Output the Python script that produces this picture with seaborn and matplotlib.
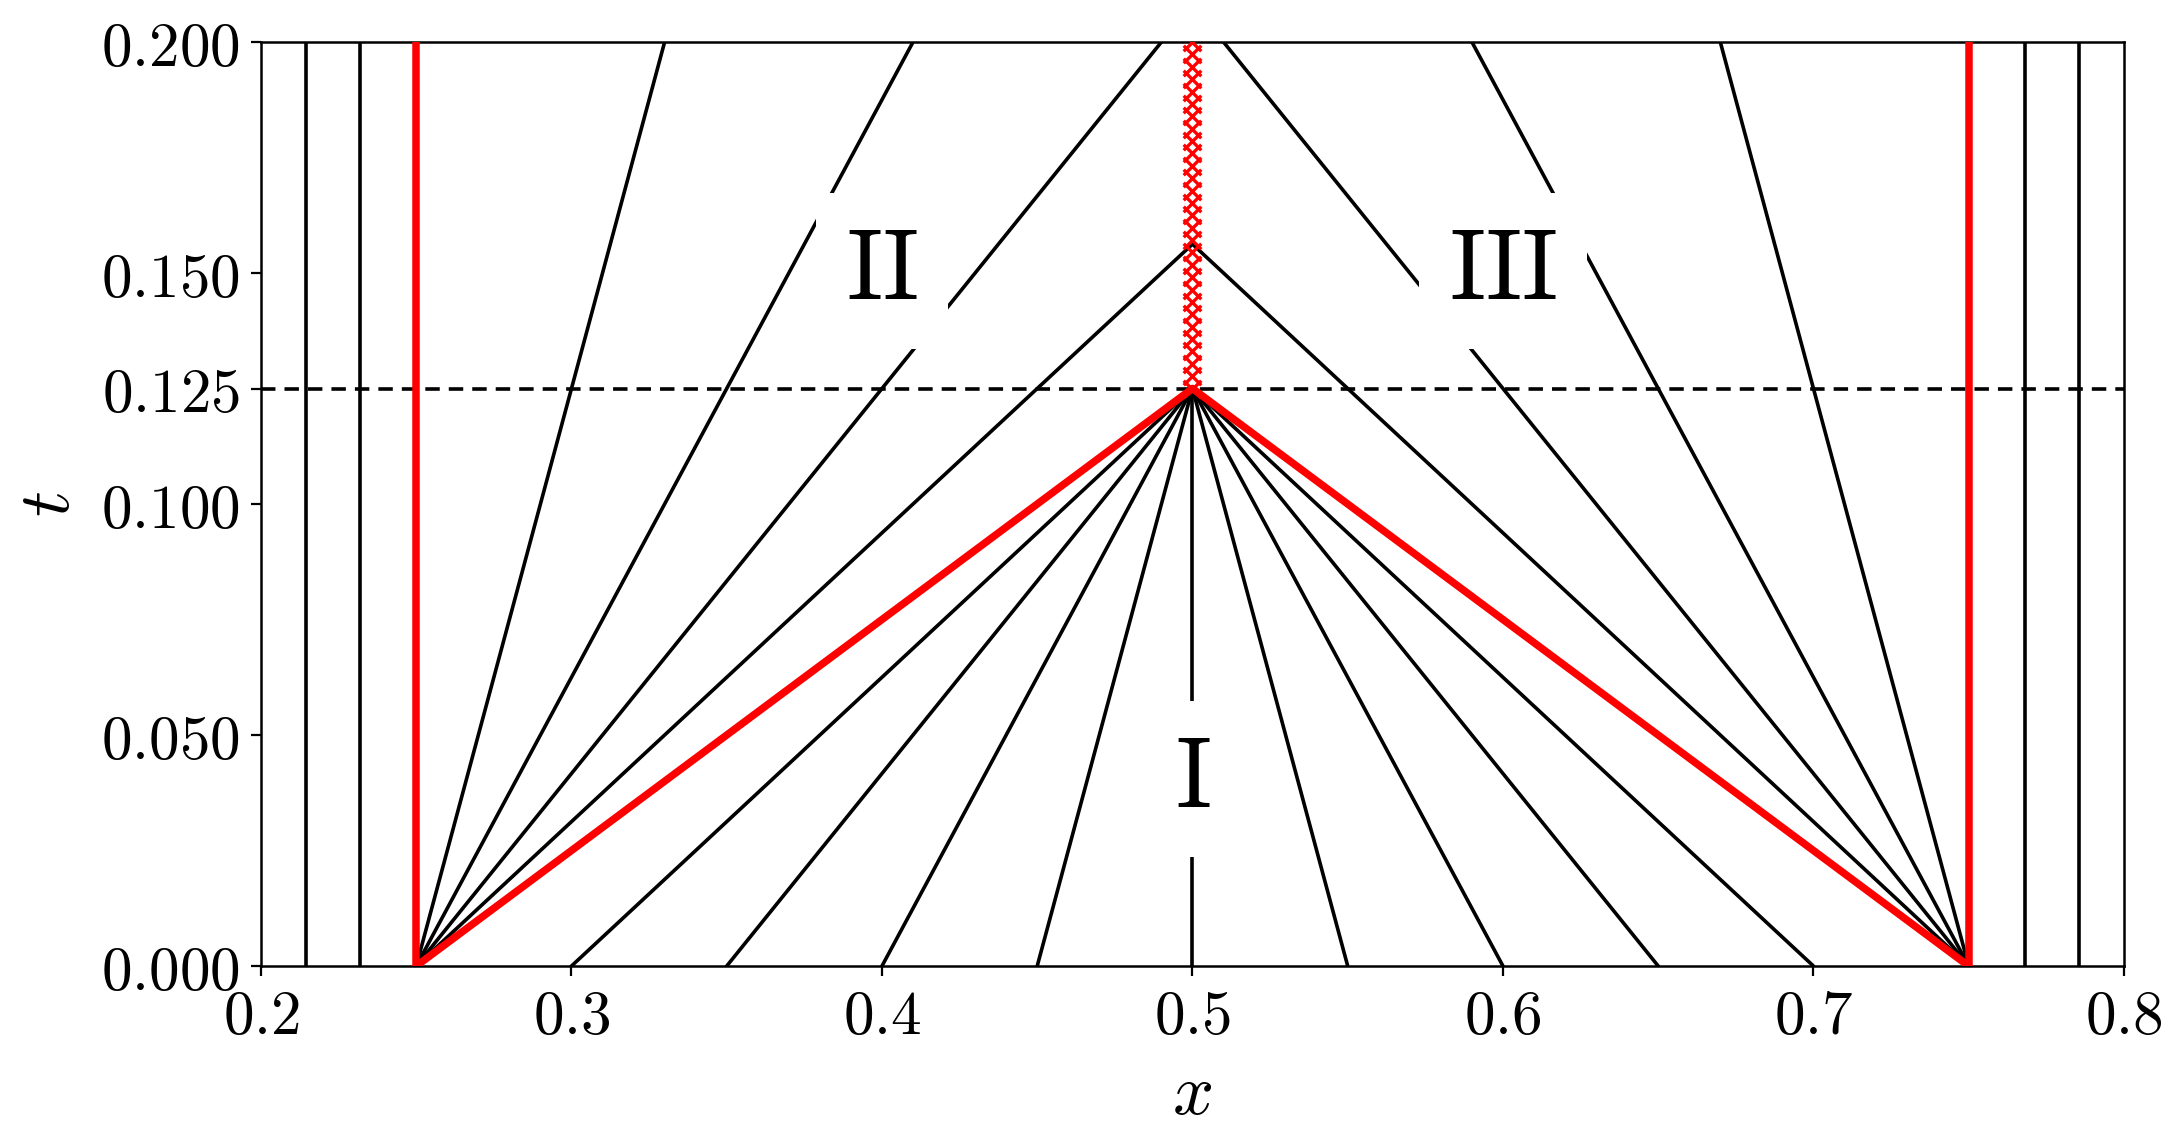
import numpy as np
import pandas as pd
import matplotlib
matplotlib.use("Agg")
import matplotlib.pyplot as plt
import seaborn as sns

sns.set_theme(style="white")
plt.rcParams["mathtext.fontset"] = "cm"
plt.rcParams["font.family"] = ["DejaVu Serif"]
plt.rcParams["text.color"] = "black"
plt.rcParams["axes.labelcolor"] = "black"
plt.rcParams["xtick.color"] = "black"
plt.rcParams["ytick.color"] = "black"

# characteristics drawn as straight segments (x0, t0) -> (x1, t1)
# undisturbed regions: vertical lines
vert_x = [0.2145, 0.232, 0.768, 0.7855]
# left fan from (0.25, 0)
fan_left_x1 = [0.33, 0.41, 0.49, 0.5]
fan_left_t1 = [0.2, 0.2, 0.2, 0.15625]
# right fan from (0.75, 0)
fan_right_x1 = [0.67, 0.59, 0.51, 0.5]
fan_right_t1 = [0.2, 0.2, 0.2, 0.15625]
# compression region: lines meeting at (0.5, 0.125)
conv_x0 = [0.3, 0.35, 0.4, 0.45, 0.5, 0.55, 0.6, 0.65, 0.7]
focus = (0.5, 0.125)
# red boundary characteristics
red_x0 = [0.25, 0.25, 0.75, 0.75]
red_t0 = [0.0, 0.0, 0.0, 0.0]
red_x1 = [0.25, 0.5, 0.75, 0.5]
red_t1 = [0.2, 0.125, 0.2, 0.125]
# shock path
shock_t = np.linspace(0.125, 0.2, 29)
shock_x = np.full_like(shock_t, 0.5)

x_ticks = [0.2, 0.3, 0.4, 0.5, 0.6, 0.7, 0.8]
t_ticks = [0.0, 0.05, 0.1, 0.125, 0.15, 0.2]

regions = ["I", "II", "III"]
region_x = [0.5, 0.4, 0.6]
region_t = [0.0405, 0.1505, 0.1505]

# build long-form tables
rows = []
seg = 0
for xv in vert_x:
    rows += [(seg, xv, 0.0), (seg, xv, 0.2)]
    seg += 1
for x1, t1 in zip(fan_left_x1, fan_left_t1):
    rows += [(seg, 0.25, 0.0), (seg, x1, t1)]
    seg += 1
for x1, t1 in zip(fan_right_x1, fan_right_t1):
    rows += [(seg, 0.75, 0.0), (seg, x1, t1)]
    seg += 1
for x0 in conv_x0:
    rows += [(seg, x0, 0.0), (seg, focus[0], focus[1])]
    seg += 1
black = pd.DataFrame(rows, columns=["id", "x", "t"])

rows = []
for i in range(len(red_x0)):
    rows += [(i, red_x0[i], red_t0[i]), (i, red_x1[i], red_t1[i])]
red = pd.DataFrame(rows, columns=["id", "x", "t"])

shock = pd.DataFrame({"x": shock_x, "t": shock_t})

fig, ax = plt.subplots(figsize=(10.92, 5.74), dpi=200)
fig.subplots_adjust(left=0.1195, right=0.9725, top=0.9634, bottom=0.1585)

sns.lineplot(data=black, x="x", y="t", units="id", estimator=None, sort=False,
             color="black", lw=1.3, ax=ax, zorder=2)
sns.lineplot(data=red, x="x", y="t", units="id", estimator=None, sort=False,
             color="red", lw=2.7, ax=ax, zorder=3)
ax.axhline(0.125, color="black", lw=1.3, ls=(0, (4, 2.5)), zorder=2)
sns.scatterplot(data=shock, x="x", y="t", marker="x", color="red", s=40,
                linewidth=1.2, ax=ax, zorder=4)

for lab, xx, tt in zip(regions, region_x, region_t):
    ax.text(xx, tt, r"$\mathrm{" + lab + "}$", fontsize=36, ha="center", va="center",
            color="black", zorder=5,
            bbox=dict(boxstyle="square,pad=0.3", fc="white", ec="none"))

ax.set_xlim(0.2, 0.8)
ax.set_ylim(0.0, 0.2)
ax.set_xticks(x_ticks)
ax.set_xticklabels([f"${v:.1f}$" for v in x_ticks])
ax.set_yticks(t_ticks)
ax.set_yticklabels([f"${v:.3f}$" for v in t_ticks])
ax.tick_params(axis="both", labelsize=22, direction="out", length=3.6, width=0.8,
               color="black", labelcolor="black", pad=4, bottom=True, left=True)
ax.set_xlabel(r"$x$", fontsize=26, labelpad=4)
ax.set_ylabel(r"$t$", fontsize=26, labelpad=6)
for s in ax.spines.values():
    s.set_color("black")
    s.set_linewidth(0.9)

fig.savefig("out.png", dpi=200)
